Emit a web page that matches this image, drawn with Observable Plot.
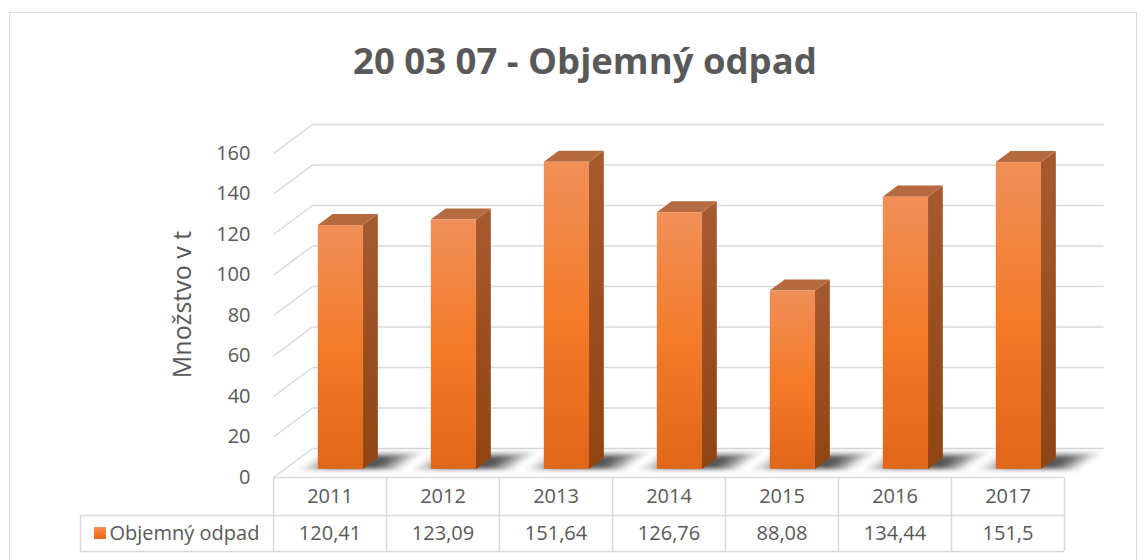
<!DOCTYPE html>
<html><head><meta charset="utf-8">
<script src="https://cdn.jsdelivr.net/npm/d3@7"></script>
<script src="https://cdn.jsdelivr.net/npm/@observablehq/plot@0.6"></script>
<style>
body{margin:0;background:#fff;font-family:"Open Sans",sans-serif;}
#wrap{position:relative;width:1145px;height:560px;overflow:hidden;background:#fff;}
#frame{position:absolute;left:9px;top:12px;width:1128px;height:600px;border:1.5px solid #d9d9d9;box-sizing:border-box;}
#title{position:absolute;left:0;width:1170px;top:36px;text-align:center;font-weight:700;font-size:36.5px;line-height:48px;color:#595959;font-family:"Open Sans",sans-serif;}
#chart{position:absolute;left:0;top:0;}
</style></head><body>
<div id="wrap"><div id="frame"></div><div id="title">20 03 07 - Objemný odpad</div><div id="chart"></div></div>
<script>
// ---- data ----
const years = ["2011", "2012", "2013", "2014", "2015", "2016", "2017"];
const values = [120.41, 123.09, 151.64, 126.76, 88.08, 134.44, 151.5];
const valueLabels = ["120,41", "123,09", "151,64", "126,76", "88,08", "134,44", "151,5"];
const seriesName = "Objemný odpad";
const yTicks = [0, 20, 40, 60, 80, 100, 120, 140, 160];
const yTitle = "Množstvo v t";

// ---- layout ----
const W = 1145, H = 560;
const X0 = 273, COL = 113, Y0 = 477, PPU = 2.025;
const pxX = p => (p - X0) / COL;          // pixel -> x data units
const pxY = p => (Y0 - p) / PPU;          // pixel -> y data units
const DX = 39 / COL, DY = 29 / PPU;       // full depth of the 3D box in data units
const fF = 0.28, fB = 0.66;               // bar depth (front/back fraction)
const bw = 0.4, bl = (1 - bw) / 2;

const n = years.length;
const idx = d3.range(n);
const bars = idx.map(i => ({i, v: values[i]}));
const pairs = [];
bars.forEach(b => [fF, fB].forEach(f => pairs.push({...b, f})));
// shadow layers on the floor, from wide/faint to narrow/dark
const shadowLayers = [
  {a: -0.16, b: 0.34, f0: fF - 0.05, f1: fB + 0.22, o: 0.1},
  {a: -0.1, b: 0.29, f0: fF - 0.03, f1: fB + 0.17, o: 0.16},
  {a: -0.04, b: 0.24, f0: fF - 0.01, f1: fB + 0.12, o: 0.24},
  {a: 0.05, b: 0.18, f0: fF + 0.01, f1: fB + 0.07, o: 0.34},
  {a: 0.15, b: 0.11, f0: fF + 0.03, f1: fB + 0.03, o: 0.4}
];
const shadowPts = [];
shadowLayers.forEach((L, k) => bars.forEach(b => [L.f0, L.f1].forEach(f => shadowPts.push({...b, ...L, k, f}))));

const plot = Plot.plot({
  width: W, height: H,
  marginLeft: X0, marginRight: W - (X0 + n * COL),
  marginTop: Y0 - 160 * PPU, marginBottom: H - Y0,
  x: {domain: [0, n], axis: null},
  y: {domain: [0, 160], axis: null},
  style: {fontFamily: "'Open Sans', sans-serif", fontSize: "20px", color: "#595959", background: "transparent", overflow: "visible"},
  marks: [
    // back wall gridlines
    Plot.link(yTicks, {x1: DX, x2: n + DX, y1: t => t + DY, y2: t => t + DY, stroke: "#d9d9d9", strokeWidth: 1.5}),
    // left wall diagonals
    Plot.link(yTicks, {x1: 0, x2: DX, y1: t => t, y2: t => t + DY, stroke: "#d9d9d9", strokeWidth: 1.5}),
    // shadows
    Plot.areaX(shadowPts, {y: d => d.f * DY, x1: d => d.i + bl + d.a + d.f * DX, x2: d => d.i + bl + bw + d.b + d.f * DX, z: d => d.k * 100 + d.i, fill: "#262626", fillOpacity: d => d.o, imageFilter: "blur(2px)"}),
    // bar side
    Plot.areaY(pairs, {x: d => d.i + bl + bw + d.f * DX, y1: d => d.f * DY, y2: d => d.v + d.f * DY, z: "i", fill: "url(#gSide)"}),
    // bar top
    Plot.areaX(pairs, {y: d => d.v + d.f * DY, x1: d => d.i + bl + d.f * DX, x2: d => d.i + bl + bw + d.f * DX, z: "i", fill: "#b66a3f"}),
    // bar front
    Plot.rect(bars, {x1: d => d.i + bl + fF * DX, x2: d => d.i + bl + bw + fF * DX, y1: fF * DY, y2: d => d.v + fF * DY, fill: "url(#gFront)"}),
    // y axis (front plane)
    Plot.axisY(yTicks, {tickSize: 0, tickPadding: 23, label: null, fontSize: 20}),
    // y title
    Plot.text([yTitle], {x: pxX(182), y: pxY(304), text: d => d, rotate: -90, fontSize: 25}),
    // data table grid
    Plot.ruleY([0], {x1: 0, x2: n, stroke: "#d9d9d9", strokeWidth: 1.5}),
    Plot.ruleY([pxY(515), pxY(551)], {x1: pxX(80), x2: n, stroke: "#d9d9d9", strokeWidth: 1.5}),
    Plot.ruleX(d3.range(n + 1), {y1: 0, y2: pxY(551), stroke: "#d9d9d9", strokeWidth: 1.5}),
    Plot.ruleX([pxX(80)], {y1: pxY(515), y2: pxY(551), stroke: "#d9d9d9", strokeWidth: 1.5}),
    // years (x axis)
    Plot.axisX({ticks: idx.map(i => i + 0.5), tickFormat: d => years[Math.floor(d)], tickSize: 0, tickPadding: 11, label: null, fontSize: 20}),
    // values row
    Plot.text(bars, {x: d => d.i + 0.5, y: pxY(533), text: d => valueLabels[d.i], fontSize: 20}),
    // legend key
    Plot.rect([seriesName], {x1: pxX(94), x2: pxX(106), y1: pxY(539), y2: pxY(527), fill: "url(#gFront)"}),
    Plot.text([seriesName], {x: pxX(109), y: pxY(533), text: d => d, textAnchor: "start", fontSize: 20})
  ]
});

const svg = d3.select(plot);
const defs = svg.insert("defs", ":first-child");
const gf = defs.append("linearGradient").attr("id", "gFront").attr("x1", 0).attr("y1", 0).attr("x2", 0).attr("y2", 1);
gf.append("stop").attr("offset", "0%").attr("stop-color", "#f08f58");
gf.append("stop").attr("offset", "50%").attr("stop-color", "#f47b29");
gf.append("stop").attr("offset", "100%").attr("stop-color", "#e0671a");
const gs = defs.append("linearGradient").attr("id", "gSide").attr("x1", 0).attr("y1", 0).attr("x2", 0).attr("y2", 1);
gs.append("stop").attr("offset", "0%").attr("stop-color", "#a65a30");
gs.append("stop").attr("offset", "100%").attr("stop-color", "#8f4412");

document.getElementById("chart").appendChild(plot);
</script>
</body></html>
